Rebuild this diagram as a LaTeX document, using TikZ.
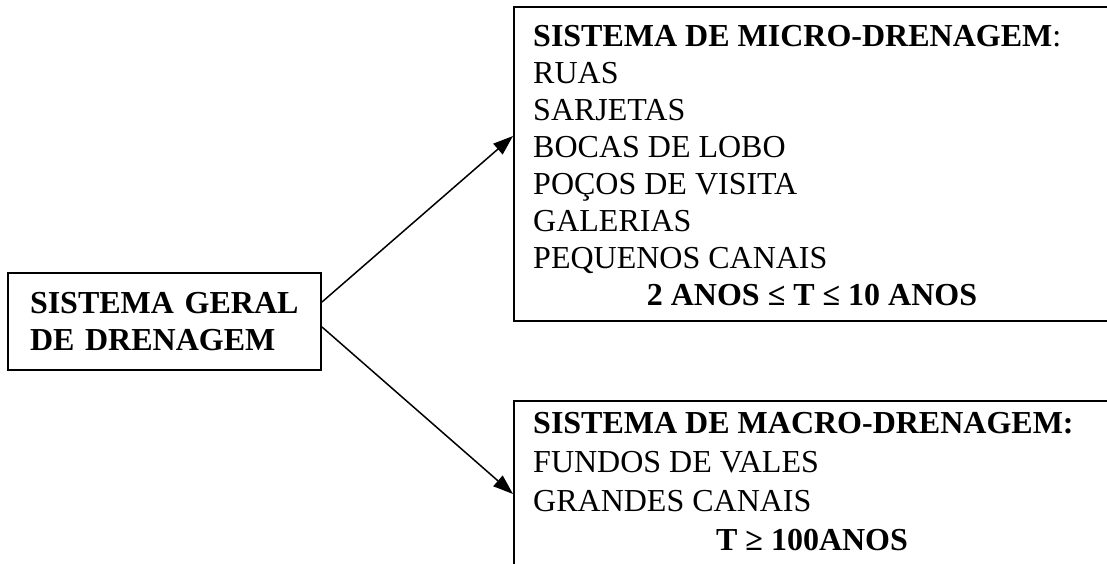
\documentclass[tikz,border=0pt]{standalone}
\usepackage{fontspec}
\setmainfont{Liberation Serif}
\usetikzlibrary{arrows.meta}

\begin{document}
\begin{tikzpicture}[x=1pt,y=-1pt,
        caixa/.style={draw, line width=2pt, inner sep=0pt},
        linha/.style={anchor=base west, inner sep=0pt, font=\fontsize{32}{36.8}\selectfont},
        titulo/.style={anchor=base, inner sep=0pt, font=\fontsize{32}{36.8}\selectfont\bfseries},
        seta/.style={line width=1.5pt, -{Triangle[length=20pt,width=14pt]}}]
        \useasboundingbox (0,0) rectangle (1107,564);
        \clip (0,0) rectangle (1107,564);

        % Sistema geral
        \node[caixa, minimum width=313pt, minimum height=97pt, text width=269pt, align=left,
              font=\fontsize{32}{36.8}\selectfont\bfseries] (geral) at (164.5,321.5)
              {SISTEMA GERAL\\DE DRENAGEM};

        % Micro-drenagem
        \node[caixa, minimum width=640pt, minimum height=314pt, anchor=north west] (micro) at (513,6) {};
        \node[linha, font=\fontsize{32}{36.8}\selectfont\bfseries] (microtit) at (533,47)
              {SISTEMA DE MICRO-DRENAGEM\textmd{:}};
        \foreach \txt [count=\i] in {RUAS, SARJETAS, BOCAS DE LOBO, POÇOS DE VISITA, GALERIAS, PEQUENOS CANAIS}
            \node[linha] (micro\i) at (533,47+36.86*\i) {\txt};
        \node[titulo] (microT) at (812,305) {2 ANOS ≤ T ≤ 10 ANOS};

        % Macro-drenagem
        \node[caixa, minimum width=640pt, minimum height=200pt, anchor=north west] (macro) at (513,400) {};
        \node[linha, font=\fontsize{32}{36.8}\selectfont\bfseries] (macrotit) at (533,433)
              {SISTEMA DE MACRO-DRENAGEM:};
        \node[linha] (macro1) at (533,472) {FUNDOS DE VALES};
        \node[linha] (macro2) at (533,511) {GRANDES CANAIS};
        \node[titulo] (macroT) at (812,550) {T ≥ 100ANOS};

        \draw[seta] ([yshift=19.5pt]geral.east) -- ([yshift=28pt]micro.west);
        \draw[seta] ([yshift=-5.5pt]geral.east) -- ([yshift=7pt]macro.west);
    \end{tikzpicture}
\end{document}
